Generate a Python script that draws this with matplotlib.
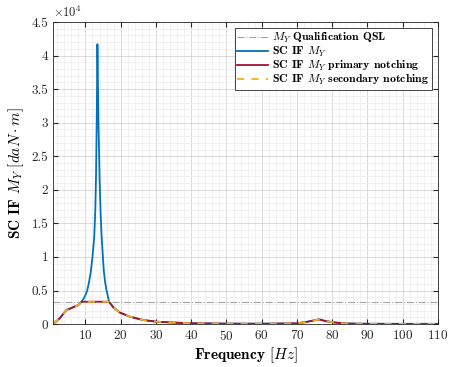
import matplotlib
matplotlib.use('Agg')
import matplotlib.pyplot as plt
import numpy as np
from matplotlib.ticker import MultipleLocator, FuncFormatter

plt.rcParams.update({
    'font.family': 'serif',
    'font.serif': ['cmr10'],
    'mathtext.fontset': 'cm',
    'axes.formatter.use_mathtext': True,
    'axes.unicode_minus': False,
})

# response envelope [Hz], [daN.m]
freq = [0.8, 2.7, 4.6, 5.6, 7.9, 8.9, 16.7, 17.9, 19.8, 22.6, 26.4, 30.2,
        35.9, 40, 50, 60, 70, 73, 76.3, 78, 80.4, 84, 90, 100, 110]
notched = [0, 850, 2100, 2300, 2800, 3330, 3330, 2500, 1700, 1100, 600, 350,
           200, 120, 60, 50, 100, 350, 700, 450, 250, 80, 40, 30, 30]

# unnotched resonance around the first mode
peak_freq = [8.9, 9.5, 10.0, 10.5, 11.0, 11.5, 12.0, 12.5, 12.8, 13.0, 13.2,
             13.4, 13.7, 14.0, 14.3, 14.6, 15.2, 15.6, 16.0, 16.7]
peak_vals = [3330, 3800, 4300, 5000, 6200, 7700, 10000, 13000, 17000, 22000,
             30000, 41700, 30000, 22000, 16500, 13000, 8000, 6200, 5000, 3330]

qsl_level = 3330

f = np.array(freq)
n = np.array(notched)
blue_f = np.concatenate([f[f < peak_freq[0]], peak_freq, f[f > peak_freq[-1]]])
blue_v = np.concatenate([n[f < peak_freq[0]], peak_vals, n[f > peak_freq[-1]]])

fig = plt.figure(figsize=(4.51, 3.67), dpi=100)
ax = fig.add_axes([0.1175, 0.117, 0.8537, 0.823])

ax.plot([freq[0], freq[-1]], [qsl_level, qsl_level], color='#a6a6a6',
        linestyle='-.', linewidth=0.8, label=r'$M_Y\ $Qualification QSL')
ax.plot(blue_f, blue_v, color='#0072BD', linewidth=1.3, label=r'SC IF $M_Y$')
ax.plot(freq, notched, color='#A2142F', linewidth=1.3,
        label=r'SC IF $M_Y\ $primary notching')
ax.plot(freq, notched, color='#EDB120', linewidth=1.3, linestyle=(0, (4, 4)),
        label=r'SC IF $M_Y\ $secondary notching')

ax.set_xlim(0.8, 110)
ax.set_ylim(0, 45000)
ax.set_xticks(np.arange(10, 111, 10))
ax.xaxis.set_minor_locator(MultipleLocator(2))
ax.yaxis.set_major_locator(MultipleLocator(5000))
ax.yaxis.set_minor_locator(MultipleLocator(1000))
ax.yaxis.set_major_formatter(FuncFormatter(lambda v, p: f'{v / 1e4:g}'))
ax.text(0.0, 1.008, r'$\times10^{4}$', transform=ax.transAxes, fontsize=9,
        ha='left', va='bottom', color='#262626')

ax.grid(True, which='major', color='#d4d4d4', linewidth=0.6)
ax.grid(True, which='minor', color='#ececec', linewidth=0.5)
ax.set_axisbelow(True)

ax.tick_params(which='both', direction='in', top=True, right=True,
               labelsize=9.5, colors='#262626')
ax.tick_params(which='major', length=3.5)
ax.tick_params(which='minor', length=0)
for s in ax.spines.values():
    s.set_color('#262626')
    s.set_linewidth(0.6)

ax.set_xlabel(r'Frequency $[Hz]$', family='cmb10', fontsize=11, labelpad=2)
ax.set_ylabel(r'SC IF $M_Y\ [daN \cdot m]$', family='cmb10', fontsize=11,
              labelpad=4)

leg = ax.legend(loc='upper right', bbox_to_anchor=(0.984, 0.98),
                borderaxespad=0, fancybox=False, edgecolor='#262626',
                framealpha=1, prop={'family': 'cmb10', 'size': 8.5},
                handlelength=2.6, handletextpad=0.3, labelspacing=0.0,
                borderpad=0.25)
leg.get_frame().set_linewidth(0.6)

fig.savefig('out.png', dpi=100)
